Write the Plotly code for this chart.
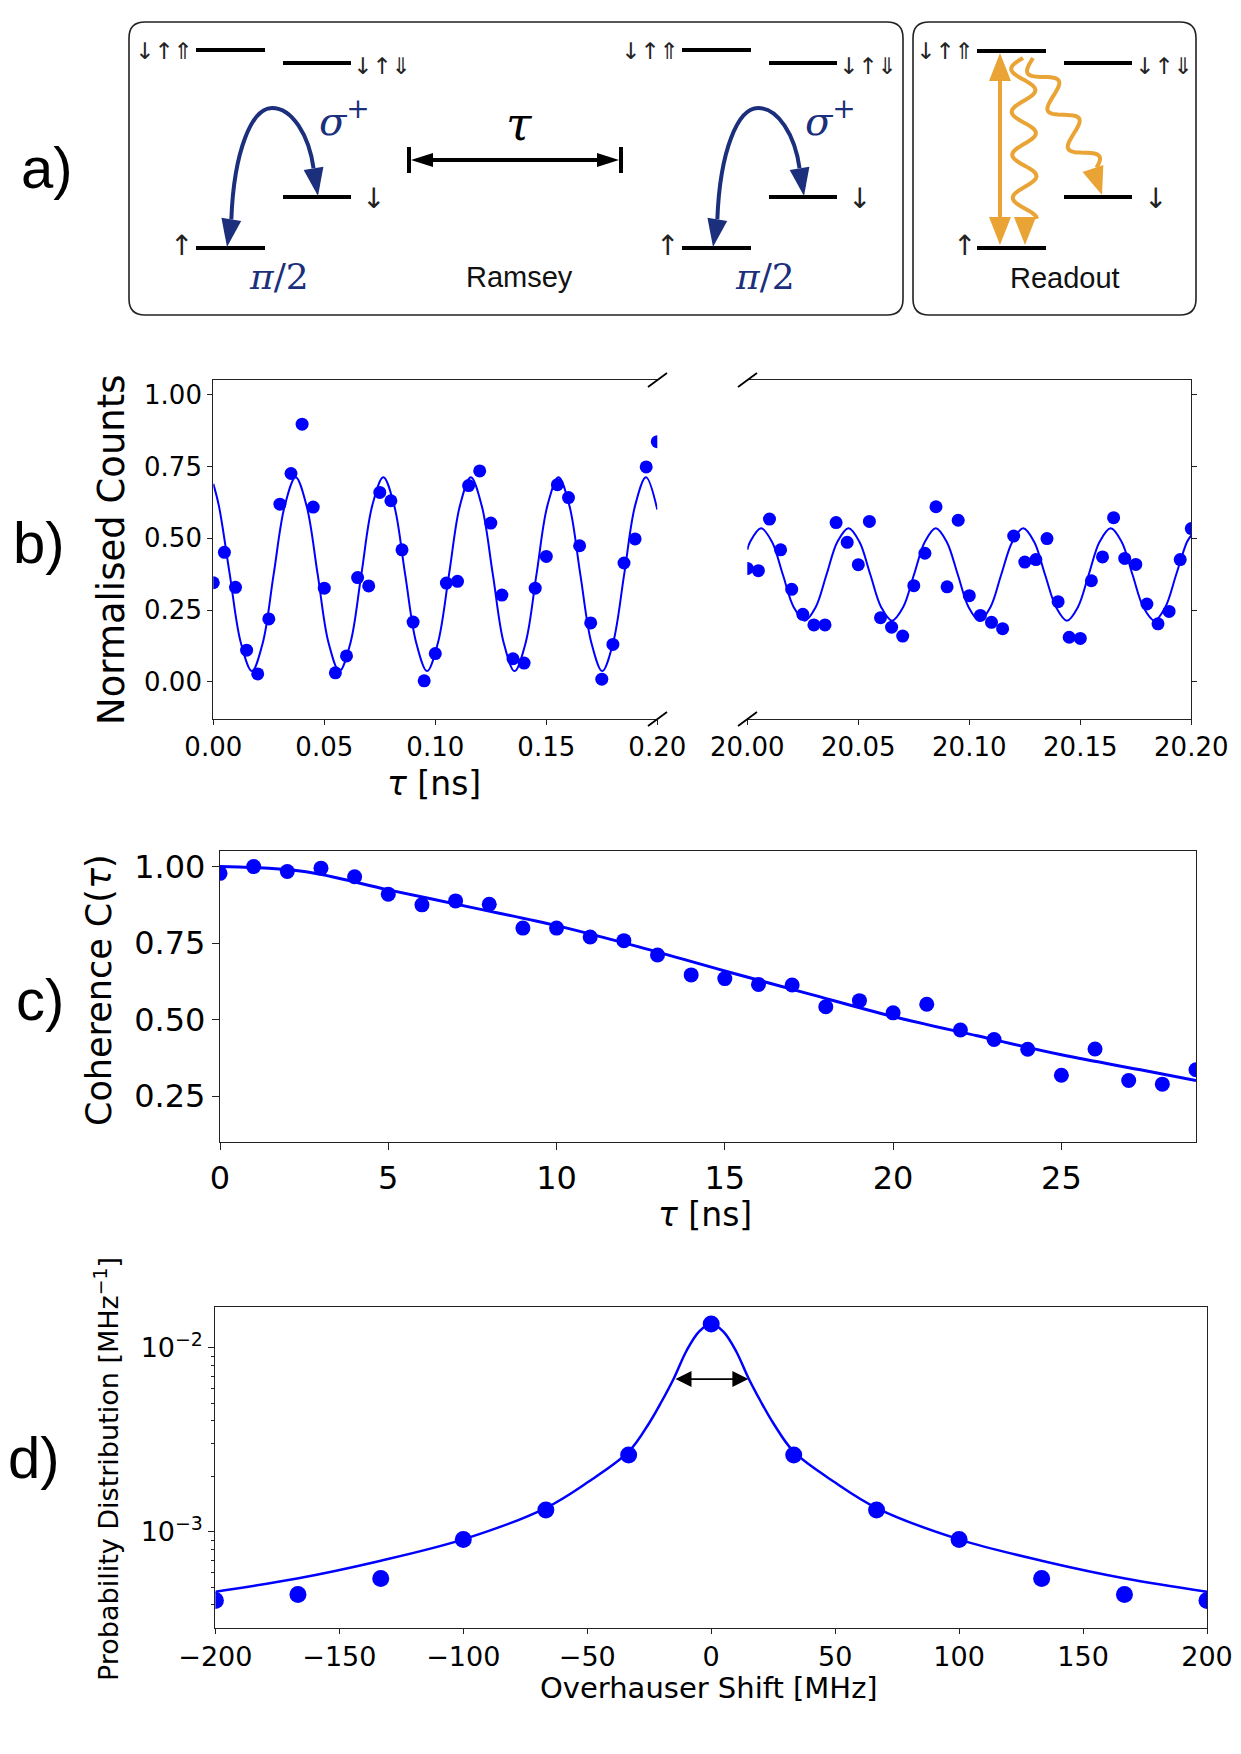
import math
import plotly.graph_objects as go

W, H = 1241, 1754
BLUE = "#0000ff"
NAVY = "#1c2f7c"
ORANGE = "#e9a435"
TXT = "DejaVu Sans"
SANS = "Liberation Sans"
SERIF = "DejaVu Serif"

# ---------------- panel b : Ramsey fringes ----------------
b_left_tau = [0.000, 0.005, 0.010, 0.015, 0.020, 0.025, 0.030, 0.035, 0.040, 0.045,
              0.050, 0.055, 0.060, 0.065, 0.070, 0.075, 0.080, 0.085, 0.090, 0.095,
              0.100, 0.105, 0.110, 0.115, 0.120, 0.125, 0.130, 0.135, 0.140, 0.145,
              0.150, 0.155, 0.160, 0.165, 0.170, 0.175, 0.180, 0.185, 0.190, 0.195, 0.200]
b_left_counts = [0.345, 0.451, 0.329, 0.110, 0.027, 0.219, 0.619, 0.726, 0.898, 0.609,
                 0.326, 0.031, 0.090, 0.363, 0.334, 0.660, 0.631, 0.460, 0.208, 0.003,
                 0.098, 0.344, 0.350, 0.684, 0.735, 0.553, 0.302, 0.080, 0.065, 0.326,
                 0.437, 0.687, 0.642, 0.474, 0.205, 0.009, 0.130, 0.414, 0.498, 0.749, 0.837]
b_left_fit_tau = [0.0, 0.0025, 0.0074, 0.0124, 0.0174, 0.0223, 0.0272, 0.0322, 0.0371,
                  0.0420, 0.0470, 0.0519, 0.0568, 0.0618, 0.0667, 0.0716, 0.0766,
                  0.0815, 0.0864, 0.0914, 0.0963, 0.1012, 0.1062, 0.1111, 0.1160,
                  0.1209, 0.1259, 0.1308, 0.1357, 0.1407, 0.1456, 0.1505, 0.1555,
                  0.1604, 0.1653, 0.1703, 0.1752, 0.1801, 0.1851, 0.1900, 0.1949, 0.2000]
b_left_fit = [0.690, 0.614, 0.375, 0.136, 0.037, 0.136, 0.375, 0.614, 0.713,
              0.614, 0.375, 0.136, 0.037, 0.136, 0.375, 0.614, 0.713,
              0.614, 0.375, 0.136, 0.037, 0.136, 0.375, 0.614, 0.713,
              0.614, 0.375, 0.136, 0.037, 0.136, 0.375, 0.614, 0.713,
              0.614, 0.375, 0.136, 0.037, 0.136, 0.375, 0.614, 0.713, 0.600]

b_right_tau = [20.000, 20.005, 20.010, 20.015, 20.020, 20.025, 20.030, 20.035, 20.040, 20.045,
               20.050, 20.055, 20.060, 20.065, 20.070, 20.075, 20.080, 20.085, 20.090, 20.095,
               20.100, 20.105, 20.110, 20.115, 20.120, 20.125, 20.130, 20.135, 20.140, 20.145,
               20.150, 20.155, 20.160, 20.165, 20.170, 20.175, 20.180, 20.185, 20.190, 20.195, 20.200]
b_right_counts = [0.395, 0.387, 0.567, 0.460, 0.322, 0.235, 0.198, 0.198, 0.555, 0.486,
                  0.408, 0.559, 0.223, 0.190, 0.159, 0.335, 0.448, 0.610, 0.331, 0.563,
                  0.300, 0.231, 0.207, 0.185, 0.508, 0.417, 0.426, 0.499, 0.279, 0.155,
                  0.151, 0.352, 0.435, 0.572, 0.430, 0.409, 0.271, 0.202, 0.245, 0.426, 0.534]
b_right_fit_tau = [20.0000, 20.0013, 20.0062, 20.0111, 20.0160, 20.0209, 20.0259, 20.0308,
                   20.0357, 20.0406, 20.0456, 20.0505, 20.0554, 20.0603, 20.0652, 20.0702,
                   20.0751, 20.0800, 20.0849, 20.0898, 20.0948, 20.0997, 20.1046, 20.1095,
                   20.1144, 20.1194, 20.1243, 20.1292, 20.1341, 20.1391, 20.1440, 20.1489,
                   20.1538, 20.1587, 20.1637, 20.1686, 20.1735, 20.1784, 20.1834, 20.1883,
                   20.1932, 20.1981, 20.2000]
b_right_fit = [0.460, 0.488, 0.535, 0.488, 0.374, 0.260, 0.213, 0.260,
               0.374, 0.488, 0.535, 0.488, 0.374, 0.260, 0.213, 0.260,
               0.374, 0.488, 0.535, 0.488, 0.374, 0.260, 0.213, 0.260,
               0.374, 0.488, 0.535, 0.488, 0.374, 0.260, 0.213, 0.260,
               0.374, 0.488, 0.535, 0.488, 0.374, 0.260, 0.213, 0.260,
               0.374, 0.488, 0.510]
b_y_ticks = [0.0, 0.25, 0.5, 0.75, 1.0]
b_y_labels = ["0.00", "0.25", "0.50", "0.75", "1.00"]
b_left_ticks = [0.0, 0.05, 0.10, 0.15, 0.20]
b_left_labels = ["0.00", "0.05", "0.10", "0.15", "0.20"]
b_right_ticks = [20.0, 20.05, 20.10, 20.15, 20.20]
b_right_labels = ["20.00", "20.05", "20.10", "20.15", "20.20"]

# ---------------- panel c : coherence decay ----------------
c_tau = [0, 1, 2, 3, 4, 5, 6, 7, 8, 9, 10, 11, 12, 13, 14,
         15, 16, 17, 18, 19, 20, 21, 22, 23, 24, 25, 26, 27, 28, 29]
c_coherence = [0.978, 1.000, 0.984, 0.995, 0.967, 0.910, 0.875, 0.888, 0.877, 0.799,
               0.799, 0.770, 0.758, 0.711, 0.646, 0.634, 0.615, 0.613, 0.542, 0.562,
               0.522, 0.550, 0.466, 0.435, 0.403, 0.318, 0.404, 0.301, 0.289, 0.336]
c_fit_tau = [0, 2.5, 5, 7.5, 10, 12.5, 15, 17.5, 20, 22.5, 25, 27.5, 29]
c_fit = [1.000, 0.984, 0.924, 0.866, 0.807, 0.736, 0.659, 0.584, 0.510, 0.447, 0.385, 0.333, 0.301]
c_y_ticks = [0.25, 0.5, 0.75, 1.0]
c_y_labels = ["0.25", "0.50", "0.75", "1.00"]
c_x_ticks = [0, 5, 10, 15, 20, 25]

# ---------------- panel d : Overhauser distribution ----------------
d_shift = [-200, -166.7, -133.3, -100, -66.7, -33.3, 0, 33.3, 66.7, 100, 133.3, 166.7, 200]
d_prob = [4.22e-4, 4.56e-4, 5.57e-4, 9.08e-4, 1.31e-3, 2.61e-3, 1.346e-2,
          2.61e-3, 1.31e-3, 9.08e-4, 5.57e-4, 4.56e-4, 4.22e-4]
d_fit_shift = [-200, -167, -135, -100, -67, -50, -33.3, -25, -20, -15, -10, -5, 0,
               5, 10, 15, 20, 25, 33.3, 50, 67, 100, 135, 167, 200]
d_fit = [4.72e-4, 5.57e-4, 6.87e-4, 9.08e-4, 1.34e-3, 1.85e-3, 2.72e-3, 3.9e-3, 5.1e-3,
         6.85e-3, 9.6e-3, 1.22e-2, 1.355e-2, 1.22e-2, 9.6e-3, 6.85e-3, 5.1e-3, 3.9e-3,
         2.72e-3, 1.85e-3, 1.34e-3, 9.08e-4, 6.87e-4, 5.57e-4, 4.72e-4]
d_fwhm_edges = [-15, 15]
d_fwhm_level = 6.75e-3
d_x_ticks = [-200, -150, -100, -50, 0, 50, 100, 150, 200]
d_x_labels = ["\u2212200", "\u2212150", "\u2212100", "\u221250", "0", "50", "100", "150", "200"]
d_y_ticks = [1e-3, 1e-2]
d_y_labels = ["10<sup>\u22123</sup>", "10<sup>\u22122</sup>"]
d_y_minor = [3e-4, 4e-4, 5e-4, 6e-4, 7e-4, 8e-4, 9e-4,
             2e-3, 3e-3, 4e-3, 5e-3, 6e-3, 7e-3, 8e-3, 9e-3]


# ---------------- helpers (pixel -> paper) ----------------
def dx(a, b):
    return [a / W, b / W]


def dy(top, bottom):
    return [1 - bottom / H, 1 - top / H]


def px(x):
    return x / W


def py(y):
    return 1 - y / H


def pt(x, y):
    return "%.5f,%.5f" % (px(x), py(y))


shapes = []
annotations = []


def line(x0, y0, x1, y1, color="black", width=4):
    shapes.append(dict(type="line", xref="paper", yref="paper",
                       x0=px(x0), y0=py(y0), x1=px(x1), y1=py(y1),
                       line=dict(color=color, width=width)))


def poly(points, color, fill=True, width=0):
    d = "M " + " L ".join(pt(x, y) for x, y in points) + (" Z" if fill else "")
    shapes.append(dict(type="path", xref="paper", yref="paper", path=d,
                       fillcolor=color if fill else "rgba(0,0,0,0)",
                       line=dict(color=color, width=width)))


def head(tipx, tipy, fromx, fromy, length, half, color):
    vx, vy = tipx - fromx, tipy - fromy
    n = math.hypot(vx, vy)
    ux, uy = vx / n, vy / n
    bx, by = tipx - ux * length, tipy - uy * length
    poly([(tipx, tipy), (bx - uy * half, by + ux * half), (bx + uy * half, by - ux * half)], color)
    return bx, by


def rrect(x0, y0, x1, y1, r):
    d = ("M " + pt(x0 + r, y0) + " L " + pt(x1 - r, y0) + " Q " + pt(x1, y0) + " " + pt(x1, y0 + r) +
         " L " + pt(x1, y1 - r) + " Q " + pt(x1, y1) + " " + pt(x1 - r, y1) +
         " L " + pt(x0 + r, y1) + " Q " + pt(x0, y1) + " " + pt(x0, y1 - r) +
         " L " + pt(x0, y0 + r) + " Q " + pt(x0, y0) + " " + pt(x0 + r, y0) + " Z")
    shapes.append(dict(type="path", xref="paper", yref="paper", path=d,
                       line=dict(color="#222222", width=1.6)))


def text(x, y, s, size, family=TXT, color="black", angle=0, xanchor="center"):
    annotations.append(dict(x=px(x), y=py(y), xref="paper", yref="paper", text=s,
                            showarrow=False, textangle=angle, xanchor=xanchor, yanchor="middle",
                            font=dict(family=family, size=size, color=color)))


def wavy(x0, y0, x1, y1, amp, wl, color, width=4):
    n = math.hypot(x1 - x0, y1 - y0)
    ux, uy = (x1 - x0) / n, (y1 - y0) / n
    pts = []
    steps = 80
    for i in range(steps + 1):
        s = n * i / steps
        o = amp * math.sin(2 * math.pi * s / wl)
        pts.append((x0 + ux * s - uy * o, y0 + uy * s + ux * o))
    d = "M " + " L ".join(pt(x, y) for x, y in pts)
    shapes.append(dict(type="path", xref="paper", yref="paper", path=d,
                       line=dict(color=color, width=width)))


UPUP = "\u2193\u2191\u21d1"
UPDN = "\u2193\u2191\u21d3"
SPIN = 23

# ---------------- panel a : schematic ----------------
rrect(129, 22, 903, 315, 16)
rrect(913, 22, 1196, 315, 16)

for off in (0, 486):
    line(196 + off, 50, 265 + off, 50)
    line(283 + off, 63, 351 + off, 63)
    line(283 + off, 197, 351 + off, 197)
    line(196 + off, 248, 265 + off, 248)
    text(164 + off, 51, UPUP, SPIN, color="#222222")
    text(382 + off, 66, UPDN, SPIN, color="#222222")
    text(373 + off, 199, "\u2193", 28, color="#222222")
    text(181 + off, 245, "\u2191", 28, color="#222222")
    text(279 + off, 276, "<i>\u03c0</i>/2", 36, family=SERIF, color=NAVY)
    text(344 + off, 118, "<i>\u03c3</i><sup>+</sup>", 40, family=SERIF, color=NAVY)
    # curved double-headed pi/2 arrow
    b1 = head(227 + off, 247, 232 + off, 215, 28, 10, NAVY)
    b2 = head(318 + off, 196, 313 + off, 165, 28, 10, NAVY)
    d = ("M " + pt(b1[0], b1[1]) + " C " + pt(234 + off, 150) + " " + pt(252 + off, 108) + " " +
         pt(272 + off, 108) + " C " + pt(292 + off, 108) + " " + pt(309 + off, 135) + " " +
         pt(b2[0], b2[1]))
    shapes.append(dict(type="path", xref="paper", yref="paper", path=d,
                       line=dict(color=NAVY, width=4)))

# tau delay arrow
line(409, 147, 409, 173, width=4)
line(621, 147, 621, 173, width=4)
h1 = head(411, 160, 450, 160, 22, 7, "black")
h2 = head(619, 160, 580, 160, 22, 7, "black")
line(h1[0], 160, h2[0], 160, width=4)
text(519, 124, "<i>\u03c4</i>", 46, family=SERIF)
text(519, 277, "Ramsey", 29, family=SANS, color="#111111")

# readout box
line(977, 51, 1046, 51)
line(1064, 63, 1132, 63)
line(1064, 197, 1132, 197)
line(977, 248, 1046, 248)
text(945, 51, UPUP, SPIN, color="#222222")
text(1164, 66, UPDN, SPIN, color="#222222")
text(1155, 199, "\u2193", 28, color="#222222")
text(964, 245, "\u2191", 28, color="#222222")
text(1065, 278, "Readout", 29, family=SANS, color="#111111")
t1 = head(1000, 53, 1000, 120, 28, 11, ORANGE)
t2 = head(1000, 245, 1000, 180, 28, 11, ORANGE)
line(1000, t1[1], 1000, t2[1], color=ORANGE, width=4)
w1 = head(1025, 245, 1025, 200, 28, 11, ORANGE)
wavy(1023, 58, 1025, w1[1] + 2, 12, 43, ORANGE)
w2 = head(1102, 195, 1090, 160, 28, 11, ORANGE)
wavy(1033, 58, w2[0], w2[1] + 1, 12, 43, ORANGE)

# panel letters
text(47, 168, "a)", 58, family=SANS)
text(39, 542, "b)", 58, family=SANS)
text(40, 999, "c)", 58, family=SANS)
text(34, 1457, "d)", 58, family=SANS)

# ---------------- figure ----------------
fig = go.Figure()

fig.add_trace(go.Scatter(x=b_left_fit_tau, y=b_left_fit, mode="lines",
                         line=dict(color=BLUE, width=2, shape="spline"), xaxis="x", yaxis="y"))
fig.add_trace(go.Scatter(x=b_left_tau, y=b_left_counts, mode="markers",
                         marker=dict(color=BLUE, size=13), xaxis="x", yaxis="y"))
fig.add_trace(go.Scatter(x=b_right_fit_tau, y=b_right_fit, mode="lines",
                         line=dict(color=BLUE, width=2, shape="spline"), xaxis="x2", yaxis="y2"))
fig.add_trace(go.Scatter(x=b_right_tau, y=b_right_counts, mode="markers",
                         marker=dict(color=BLUE, size=13), xaxis="x2", yaxis="y2"))
fig.add_trace(go.Scatter(x=c_fit_tau, y=c_fit, mode="lines",
                         line=dict(color=BLUE, width=3, shape="spline"), xaxis="x3", yaxis="y3"))
fig.add_trace(go.Scatter(x=c_tau, y=c_coherence, mode="markers",
                         marker=dict(color=BLUE, size=15), xaxis="x3", yaxis="y3"))
fig.add_trace(go.Scatter(x=d_fit_shift, y=d_fit, mode="lines",
                         line=dict(color=BLUE, width=2.5, shape="spline"), xaxis="x4", yaxis="y4"))
fig.add_trace(go.Scatter(x=d_shift, y=d_prob, mode="markers",
                         marker=dict(color=BLUE, size=17), xaxis="x4", yaxis="y4"))

# FWHM arrow on panel d
annotations.append(dict(x=d_fwhm_edges[1], y=math.log10(d_fwhm_level),
                        ax=d_fwhm_edges[0], ay=math.log10(d_fwhm_level),
                        xref="x4", yref="y4", axref="x4", ayref="y4", text="",
                        showarrow=True, arrowhead=2, arrowside="end+start",
                        arrowsize=2.0, arrowwidth=1.6, arrowcolor="black"))

# axis titles
text(111, 550, "Normalised Counts", 37, angle=-90)
text(434, 783, "<i>\u03c4</i> [ns]", 33)
text(99, 990, "Coherence C(<i>\u03c4</i>)", 35, angle=-90)
text(705, 1214, "<i>\u03c4</i> [ns]", 33)
text(106, 1469, "Probability Distribution [MHz<sup>\u22121</sup>]", 27, angle=-90)
text(709, 1688, "Overhauser Shift [MHz]", 29)

# broken-axis marks
for x0, x1 in ((648, 667), (738, 757)):
    line(x0, 387, x1, 373, color="black", width=1.8)
    line(x0, 726, x1, 712, color="black", width=1.8)

AX = dict(showgrid=False, zeroline=False, showline=True, linecolor="#222222", linewidth=1.3,
          ticks="outside", tickcolor="#222222", tickwidth=1.3, automargin=False)

fig.update_layout(
    width=W, height=H, autosize=False,
    margin=dict(l=0, r=0, t=0, b=0, pad=0, autoexpand=False),
    paper_bgcolor="white", plot_bgcolor="rgba(0,0,0,0)", showlegend=False,
    font=dict(family=TXT, color="black"),
    xaxis=dict(AX, domain=dx(213.3, 657.3), range=[0, 0.2], anchor="y", mirror=True,
               tickvals=b_left_ticks, ticktext=b_left_labels, ticklen=5, tickfont=dict(size=26)),
    yaxis=dict(AX, domain=dy(380, 719), range=[-0.13, 1.052], anchor="x",
               tickvals=b_y_ticks, ticktext=b_y_labels, ticklen=5, tickfont=dict(size=26)),
    xaxis2=dict(AX, domain=dx(747.3, 1191.3), range=[20.0, 20.2], anchor="y2", mirror=True,
                tickvals=b_right_ticks, ticktext=b_right_labels, ticklen=5, tickfont=dict(size=26)),
    yaxis2=dict(AX, domain=dy(380, 719), range=[-0.13, 1.052], anchor="x2", side="right",
                tickvals=b_y_ticks, showticklabels=False, ticklen=5),
    xaxis3=dict(AX, domain=dx(220, 1196), range=[0, 29], anchor="y3", mirror=True,
                tickvals=c_x_ticks, ticklen=7, tickfont=dict(size=32)),
    yaxis3=dict(AX, domain=dy(851, 1142.3), range=[0.099, 1.051], anchor="x3", mirror=True,
                tickvals=c_y_ticks, ticktext=c_y_labels, ticklen=7, tickfont=dict(size=32)),
    xaxis4=dict(AX, domain=dx(215.4, 1207), range=[-200, 200], anchor="y4", mirror=True,
                tickvals=d_x_ticks, ticktext=d_x_labels, ticklen=5, tickfont=dict(size=27)),
    yaxis4=dict(AX, domain=dy(1306.7, 1627.7), type="log", range=[-3.522, -1.777], anchor="x4",
                mirror=True, tickvals=d_y_ticks, ticktext=d_y_labels, ticklen=6,
                tickfont=dict(size=27),
                minor=dict(tickvals=d_y_minor, ticks="outside", ticklen=3, tickcolor="#222222")),
    shapes=shapes, annotations=annotations,
)

fig.write_html("out.html")
